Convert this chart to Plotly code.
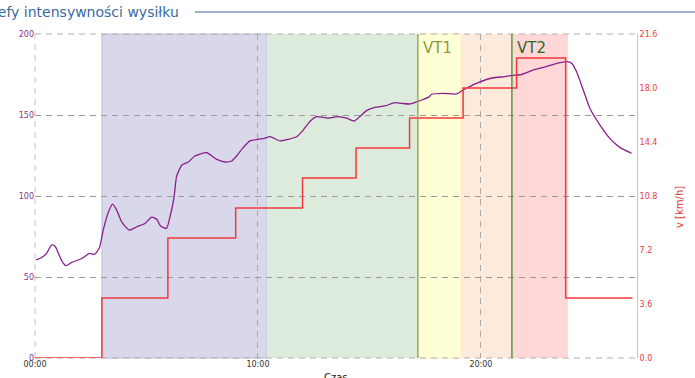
import plotly.graph_objects as go

# Heart rate (left axis), time in minutes
hr_t = [0.04, 0.3, 0.52, 0.75, 0.9, 1.05, 1.2, 1.39, 1.64, 1.94, 2.17, 2.44, 2.66, 2.88,
        3.06, 3.29, 3.48, 3.66, 3.89, 4.23, 4.56, 4.93, 5.23, 5.46, 5.63, 5.9, 6.05, 6.23,
        6.35, 6.58, 6.88, 7.17, 7.7, 8.15, 8.52, 8.82, 9.04, 9.31, 9.64, 10.0, 10.3, 10.54,
        10.99, 11.36, 11.73, 12.03, 12.33, 12.63, 13.15, 13.6, 13.98, 14.32, 14.57, 14.87,
        15.25, 15.7, 16.14, 16.44, 16.82, 17.26, 17.68, 17.79, 18.31, 18.91, 19.2, 19.88,
        20.55, 21.08, 21.38, 21.82, 22.35, 22.95, 23.54, 23.84, 24.07, 24.29, 24.59, 24.89,
        25.34, 25.78, 26.23, 26.76]
hr_v = [60.5, 62, 64.6, 69.8, 69, 64.6, 60, 57, 59, 60.5, 62, 64.6, 64, 67.7,
        79, 90, 95, 91.4, 84, 79, 81, 83, 87, 85.6, 81.5, 80, 87, 98.6,
        112, 119, 121, 124.7, 126.7, 122.6, 121, 121.6, 124.7, 129.4, 134, 135, 135.6, 136.6,
        134, 135, 136.6, 140.7, 146, 149, 148, 149, 148, 146.3, 149, 152.7,
        154.7, 155.6, 157.6, 157.2, 156.8, 158.8, 161.2, 162.8, 163.4, 163, 165.4, 170,
        173, 173.7, 174.5, 175, 177.8, 180, 182.3, 183, 182, 176.7, 165.4, 154,
        143.8, 135.6, 130, 126.4]

# Speed steps (right axis)
speed_t = [0, 3.0, 5.96, 9.0, 12.0, 14.4, 16.8, 19.2, 21.6, 23.8, 26.8]
speed_v = [0, 4, 8, 10, 12, 14, 16, 18, 20, 4, 4]

# Intensity zones (start, end, colour)
zone_start = [3.0, 10.4, 17.17, 19.1, 21.4]
zone_end = [10.4, 17.17, 19.1, 21.4, 23.9]
zone_colors = ["#d8d8ea", "#ddebdc", "#ffffd6", "#fdeada", "#ffd7d7"]
zone_lines = ["#bcbce0", "rgba(0,0,0,0)", "#fff3b8", "rgba(0,0,0,0)", "rgba(0,0,0,0)"]

vt_names = ["VT1", "VT2"]
vt_times = [17.17, 21.39]
vt_line_colors = ["#7ea83c", "#3f8a2a"]
vt_text_colors = ["#8c9c3c", "#2f6a1a"]

x_tickvals = [0, 10, 20]
x_ticktext = ["00:00", "10:00", "20:00"]
y2_tickvals = [0, 3.6, 7.2, 10.8, 14.4, 18.0, 21.6]
y2_ticktext = ["0.0", "3.6", "7.2", "10.8", "14.4", "18.0", "21.6"]

FONT = "DejaVu Sans"
DASH = "6px,5px"

fig = go.Figure()

fig.add_trace(go.Scatter(x=hr_t, y=hr_v, mode="lines", line=dict(color="#8a1e8e", width=1.3, shape="spline", smoothing=0.6),
                         yaxis="y", showlegend=False, hoverinfo="skip"))
fig.add_trace(go.Scatter(x=speed_t, y=speed_v, mode="lines", line=dict(color="#f23a3a", width=1.5, shape="hv"),
                         yaxis="y2", showlegend=False, hoverinfo="skip"))

shapes = []
for s, e, c, lc in zip(zone_start, zone_end, zone_colors, zone_lines):
    shapes.append(dict(type="rect", xref="x", yref="paper", x0=s, x1=e, y0=0, y1=1,
                       fillcolor=c, line=dict(color=lc, width=1), layer="below"))
# dashed frame lines (top, bottom, left)
shapes.append(dict(type="line", xref="paper", yref="paper", x0=0, x1=1, y0=1, y1=1,
                   line=dict(color="#b0b0b0", width=1, dash=DASH), layer="below"))
shapes.append(dict(type="line", xref="paper", yref="paper", x0=0, x1=1, y0=0, y1=0,
                   line=dict(color="#b0b0b0", width=1, dash=DASH), layer="below"))
shapes.append(dict(type="line", xref="paper", yref="paper", x0=0, x1=0, y0=0, y1=1,
                   line=dict(color="#c4c4c4", width=1, dash=DASH), layer="below"))
for t, lc in zip(vt_times, vt_line_colors):
    shapes.append(dict(type="line", xref="x", yref="paper", x0=t, x1=t, y0=0, y1=1,
                       line=dict(color=lc, width=1.3), layer="above"))
# line after the title
shapes.append(dict(type="line", xref="paper", yref="paper", x0=(195 - 35) / 602, x1=(695 - 35) / 602,
                   y0=(358 - 12) / 324, y1=(358 - 12) / 324, line=dict(color="#3b6494", width=1)))

annotations = []
for name, t, tc in zip(vt_names, vt_times, vt_text_colors):
    annotations.append(dict(x=t, xref="x", y=(358 - 48) / 324, yref="paper", text=name, showarrow=False,
                            xanchor="left", yanchor="middle", xshift=3,
                            font=dict(family=FONT, size=15, color=tc)))
annotations.append(dict(x=(181 - 35) / 602, xref="paper", y=(358 - 12) / 324, yref="paper",
                        text="Strefy intensywności wysiłku", showarrow=False, xanchor="right", yanchor="middle",
                        font=dict(family=FONT, size=14, color="#3a6aa0")))
annotations.append(dict(x=0.5, xref="paper", y=(358 - 370) / 324, yref="paper", text="Czas", showarrow=False,
                        xanchor="center", yanchor="top", font=dict(family=FONT, size=10, color="#222")))
annotations.append(dict(x=(680 - 35) / 602, xref="paper", y=(358 - 207) / 324, yref="paper", text="v [km/h]",
                        showarrow=False, textangle=-90, xanchor="center", yanchor="middle",
                        font=dict(family=FONT, size=10, color="#e83030")))

fig.update_layout(
    width=695, height=378,
    margin=dict(l=35, r=58, t=34, b=20, autoexpand=False),
    paper_bgcolor="white", plot_bgcolor="white",
    font=dict(family=FONT, size=8),
    shapes=shapes, annotations=annotations,
    xaxis=dict(range=[0, 27], tickvals=x_tickvals, ticktext=x_ticktext, showgrid=True, automargin=False,
               gridcolor="#aaaaaa", griddash=DASH, gridwidth=1, zeroline=False, showline=False,
               ticks="", tickfont=dict(family=FONT, size=8, color="#333")),
    yaxis=dict(range=[0, 200], tickvals=[0, 50, 100, 150, 200], showgrid=True, gridcolor="#9a9a9a",
               griddash=DASH, gridwidth=1, zeroline=False, showline=False, ticks="", automargin=False,
               tickfont=dict(family=FONT, size=8, color="#883388")),
    yaxis2=dict(range=[0, 21.6], overlaying="y", side="right", tickvals=y2_tickvals, ticktext=y2_ticktext,
                showgrid=False, zeroline=False, showline=True, linecolor="#c4c4c4", linewidth=1, ticks="",
                automargin=False, tickfont=dict(family=FONT, size=8, color="#e84040")),
)

fig.write_html("out.html", config={"displayModeBar": False},
               post_script="document.body.style.margin='0';document.body.style.overflow='hidden';")
